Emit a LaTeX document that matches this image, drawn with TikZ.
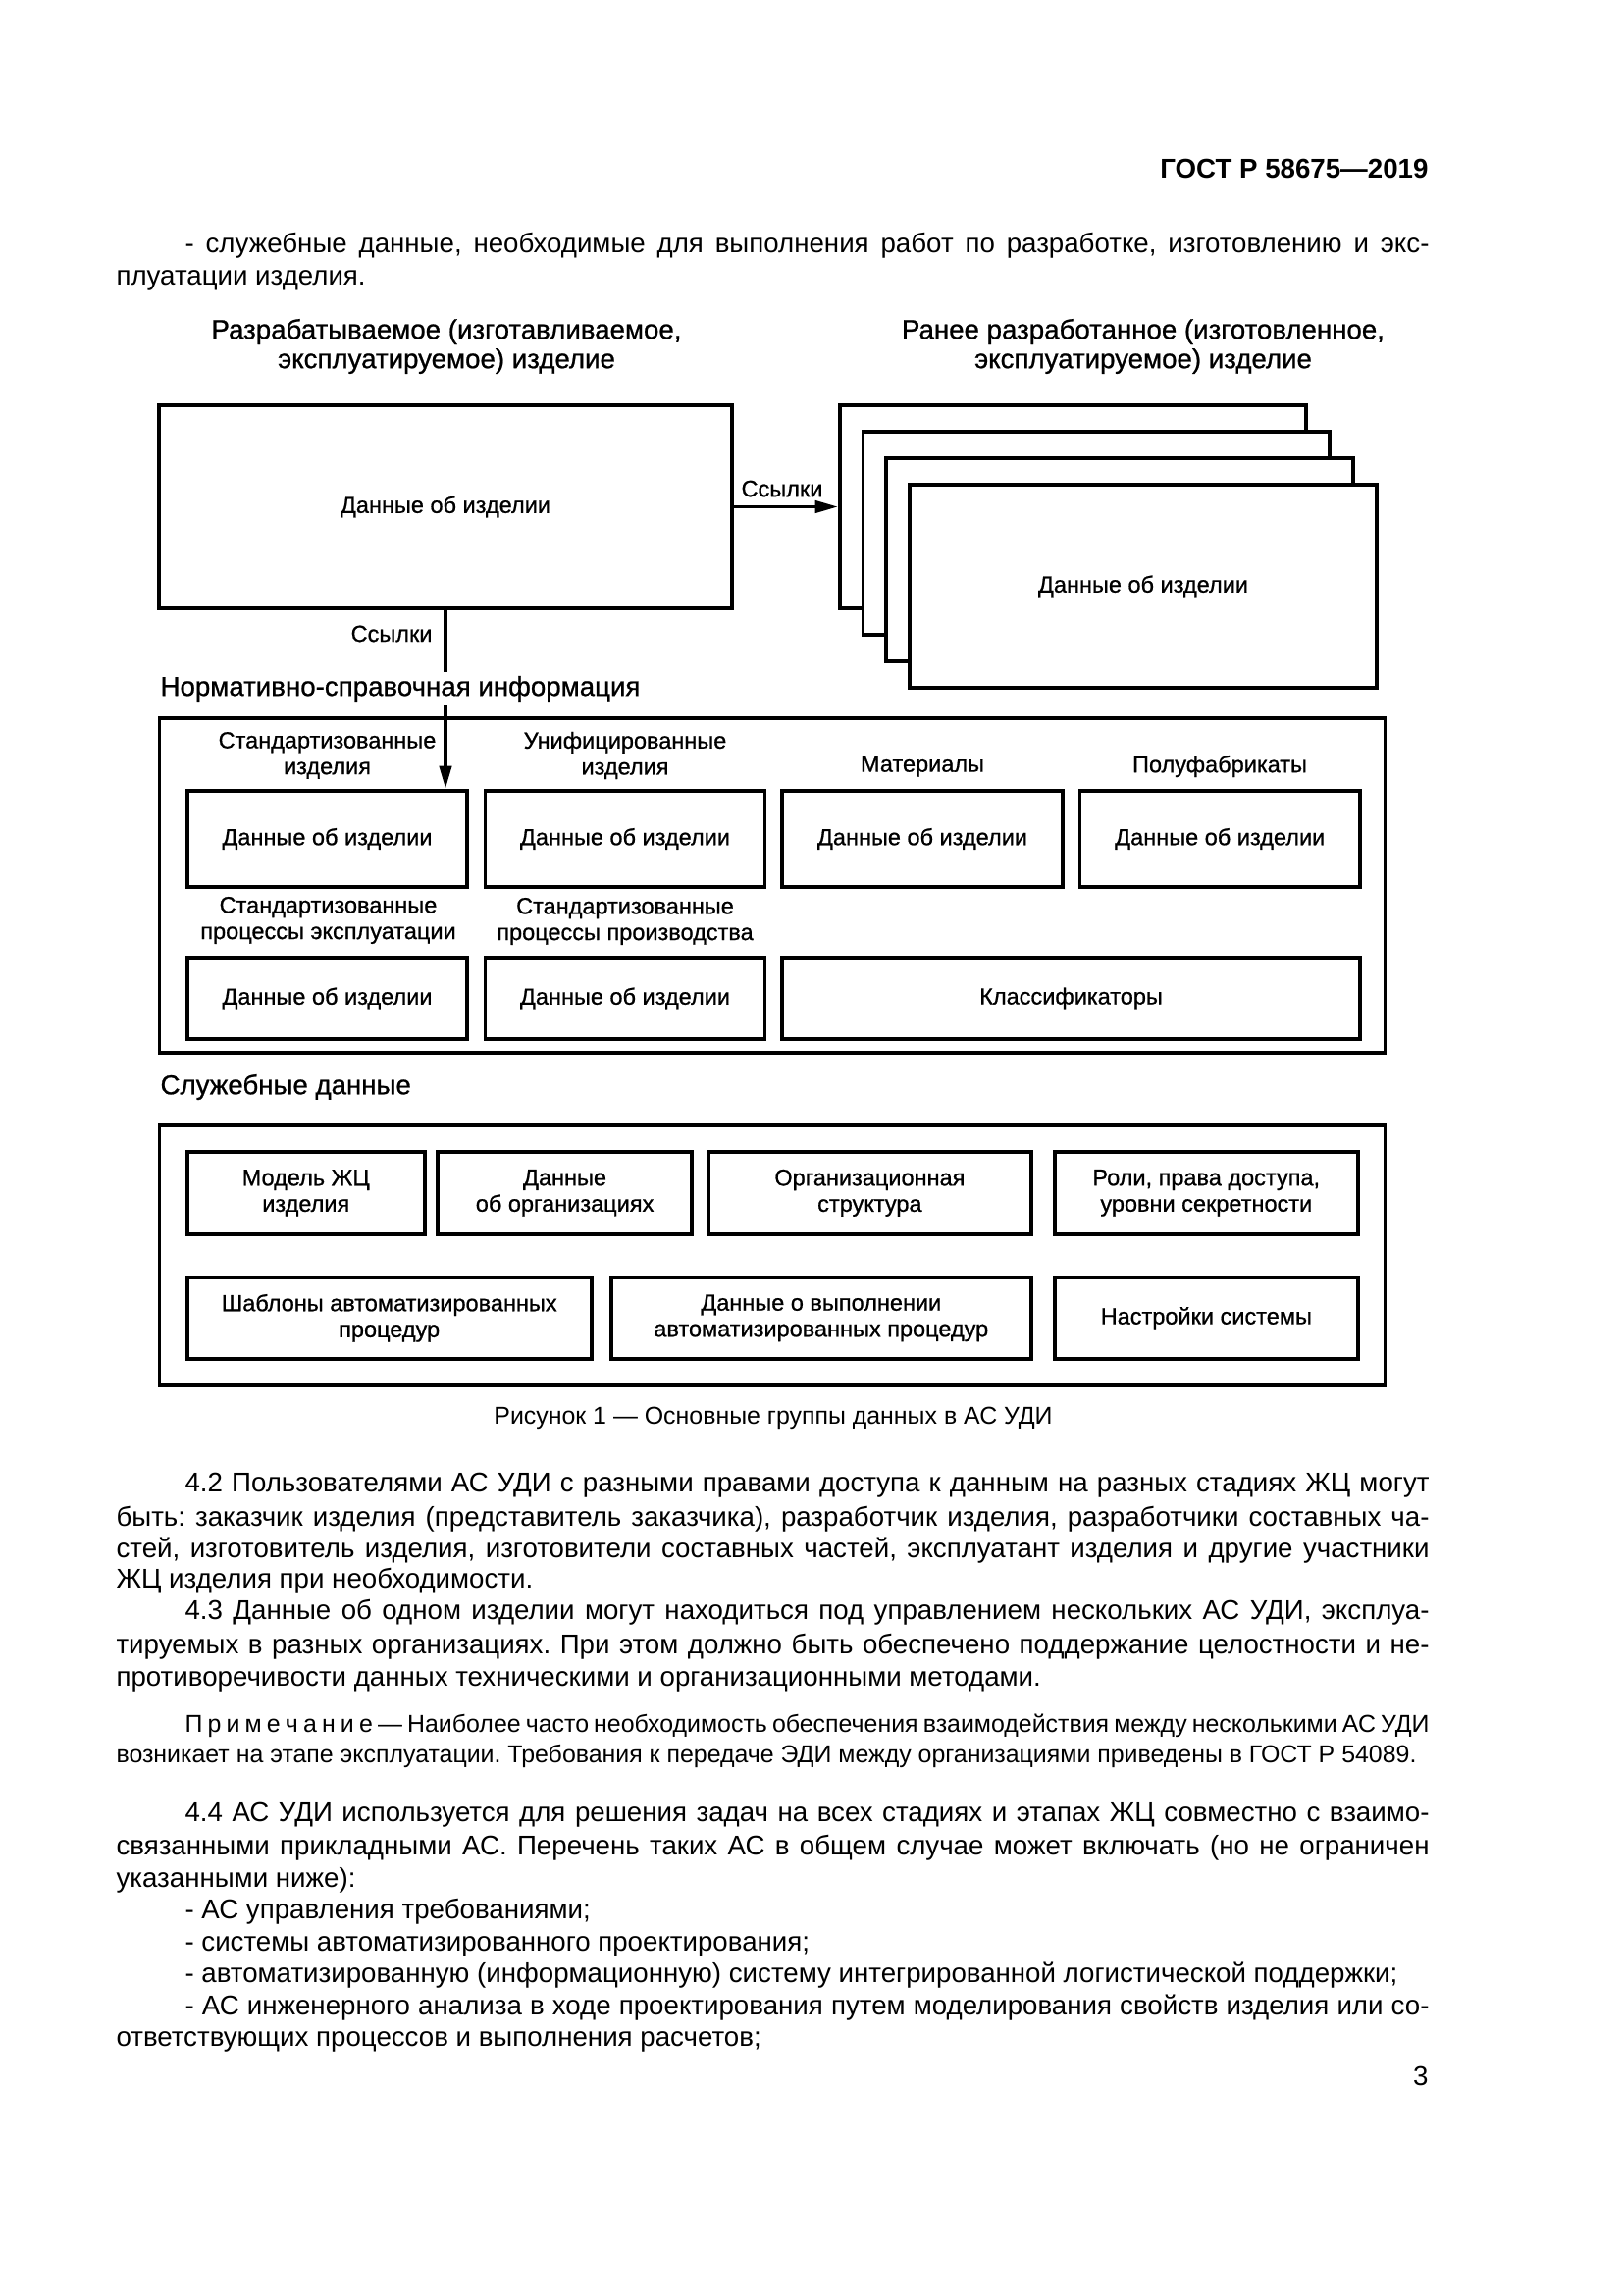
\documentclass[tikz,border=0pt]{standalone}
\usepackage{fontspec}
\setmainfont{Liberation Sans}
\newfontfamily\dfont[FakeBold=0.8]{Liberation Sans}
\usetikzlibrary{arrows.meta}
\frenchspacing
\newlength\pxu
\setlength\pxu{0.127mm}
\newcommand\pbox[6]{\node[box,minimum width={(#4-#2)*\pxu},minimum height={(#5-#3)*\pxu}] (#1) at ({(#2+#4)/2},{(#3+#5)/2}) {#6};}
\newcommand\jtext[2]{\makebox[#1\pxu][s]{#2}}
\begin{document}
\begin{tikzpicture}[x=0.127mm,y=-0.127mm,
  box/.style={draw,line width=1.4pt,fill=white,inner sep=2pt,align=center,font=\dfont\fontsize{8.5}{9.6}\selectfont},
  lbl/.style={inner sep=0pt,align=center,font=\dfont\fontsize{8.5}{9.6}\selectfont},
  ttl/.style={inner sep=0pt,align=center,font=\dfont\fontsize{10}{10.8}\selectfont},
  sec/.style={inner xsep=0pt,inner ysep=1.5pt,anchor=west,fill=white,font=\dfont\fontsize{10}{12}\selectfont},
  body/.style={inner sep=0pt,anchor=base west,font=\fontsize{10}{12}\selectfont},
  note/.style={inner sep=0pt,anchor=base west,font=\fontsize{9}{11}\selectfont},
  arr/.style={line width=1.4pt,-{Triangle[length=8.5pt,width=4.4pt]}}]
\useasboundingbox[fill=white] (0,0) rectangle (1654,2339);

% header and first paragraph
\node[inner sep=0pt,anchor=base east,font=\bfseries\fontsize{10}{12}\selectfont] (hdr) at (1456,182) {ГОСТ Р 58675—2019};
\node[body] (p1a) at (188,258) {\jtext{1268}{- служебные данные, необходимые для выполнения работ по разработке, изготовлению и экс-}};
\node[body] (p1b) at (118,291) {плуатации изделия.};

% titles
\node[ttl] (t1) at (455,353) {Разрабатываемое (изготавливаемое,\\эксплуатируемое) изделие};
\node[ttl] (t2) at (1165,353) {Ранее разработанное (изготовленное,\\эксплуатируемое) изделие};

% current product
\pbox{cur}{162}{413}{746}{620}{Данные об изделии}
% stacked earlier products
\pbox{s1}{856}{413}{1331}{620}{}
\pbox{s2}{879.5}{440}{1355}{647}{}
\pbox{s3}{903}{467}{1379}{674}{}
\pbox{s4}{927}{494}{1403}{701}{Данные об изделии}

% normative frame
\pbox{nsi}{162.5}{732}{1411.5}{1073}{}
\pbox{n1}{191}{806}{476}{904}{Данные об изделии}
\pbox{n2}{494.5}{806}{779.5}{904}{Данные об изделии}
\pbox{n3}{797}{806}{1083}{904}{Данные об изделии}
\pbox{n4}{1100.5}{806}{1386}{904}{Данные об изделии}
\pbox{n5}{191}{976}{476}{1059}{Данные об изделии}
\pbox{n6}{494.5}{976}{779.5}{1059}{Данные об изделии}
\pbox{n7}{797}{976}{1386}{1059}{Классификаторы}
\node[lbl] (l1) at (333.5,770) {Стандартизованные\\изделия};
\node[lbl] (l2) at (637,770) {Унифицированные\\изделия};
\node[lbl] (l3) at (940,781) {Материалы};
\node[lbl] (l4) at (1243,781) {Полуфабрикаты};
\node[lbl] (l5) at (334.5,938) {Стандартизованные\\процессы эксплуатации};
\node[lbl] (l6) at (637,939) {Стандартизованные\\процессы производства};

% arrows
\draw[arr] (cur.east) -- (cur.east -| s1.west);
\node[lbl,anchor=south west] (ref1) at (755,507) {Ссылки};
\draw[arr] (cur.south) -- (cur.south |- n1.north);
\node[lbl,anchor=east] (ref2) at (441,646) {Ссылки};
\node[sec] (nsit) at (163,702) {Нормативно-справочная информация};

% service data
\node[sec] (svct) at (163,1108) {Служебные данные};
\pbox{svc}{162.5}{1147}{1411.5}{1412}{}
\pbox{a1}{190.7}{1174}{432.8}{1257.7}{Модель ЖЦ\\изделия}
\pbox{a2}{445.7}{1174}{705.4}{1257.7}{Данные\\об организациях}
\pbox{a3}{721.7}{1174}{1051}{1257.7}{Организационная\\структура}
\pbox{a4}{1074.6}{1174}{1384}{1257.7}{Роли, права доступа,\\уровни секретности}
\pbox{b1}{190.7}{1301.7}{602.6}{1385}{Шаблоны автоматизированных\\процедур}
\pbox{b2}{622.6}{1301.7}{1051}{1385}{Данные о выполнении\\автоматизированных процедур}
\pbox{b3}{1074.6}{1301.7}{1384}{1385}{Настройки системы}

% caption
\node[inner sep=0pt,font=\fontsize{9}{11}\selectfont] (cap) at (788,1445) {Рисунок 1 — Основные группы данных в АС УДИ};

% paragraph 4.2
\node[body] (q1) at (188,1520) {\jtext{1268}{4.2 Пользователями АС УДИ с разными правами доступа к данным на разных стадиях ЖЦ могут}};
\node[body] (q2) at (118,1555) {\jtext{1338}{быть: заказчик изделия (представитель заказчика), разработчик изделия, разработчики составных ча-}};
\node[body] (q3) at (118,1587) {\jtext{1338}{стей, изготовитель изделия, изготовители составных частей, эксплуатант изделия и другие участники}};
\node[body] (q4) at (118,1618) {ЖЦ изделия при необходимости.};
% paragraph 4.3
\node[body] (r1) at (188,1650) {\jtext{1268}{4.3 Данные об одном изделии могут находиться под управлением нескольких АС УДИ, эксплуа-}};
\node[body] (r2) at (118,1685) {\jtext{1338}{тируемых в разных организациях. При этом должно быть обеспечено поддержание целостности и не-}};
\node[body] (r3) at (118,1718) {противоречивости данных техническими и организационными методами.};
% note
\node[note] (m1) at (188,1765) {\jtext{1268}{П р и м е ч а н и е — Наиболее часто необходимость обеспечения взаимодействия между несколькими АС УДИ}};
\node[note] (m2) at (118,1796) {возникает на этапе эксплуатации. Требования к передаче ЭДИ между организациями приведены в ГОСТ Р 54089.};
% paragraph 4.4
\node[body] (u1) at (188,1856) {\jtext{1268}{4.4 АС УДИ используется для решения задач на всех стадиях и этапах ЖЦ совместно с взаимо-}};
\node[body] (u2) at (118,1890) {\jtext{1338}{связанными прикладными АС. Перечень таких АС в общем случае может включать (но не ограничен}};
\node[body] (u3) at (118,1923) {указанными ниже):};
\node[body] (u4) at (188,1955) {- АС управления требованиями;};
\node[body] (u5) at (188,1988) {- системы автоматизированного проектирования;};
\node[body] (u6) at (188,2020) {- автоматизированную (информационную) систему интегрированной логистической поддержки;};
\node[body] (u7) at (188,2053) {\jtext{1268}{- АС инженерного анализа в ходе проектирования путем моделирования свойств изделия или со-}};
\node[body] (u8) at (118,2085) {ответствующих процессов и выполнения расчетов;};
\node[inner sep=0pt,anchor=base east,font=\fontsize{10}{12}\selectfont] (pg) at (1456,2125) {3};
\end{tikzpicture}
\end{document}
